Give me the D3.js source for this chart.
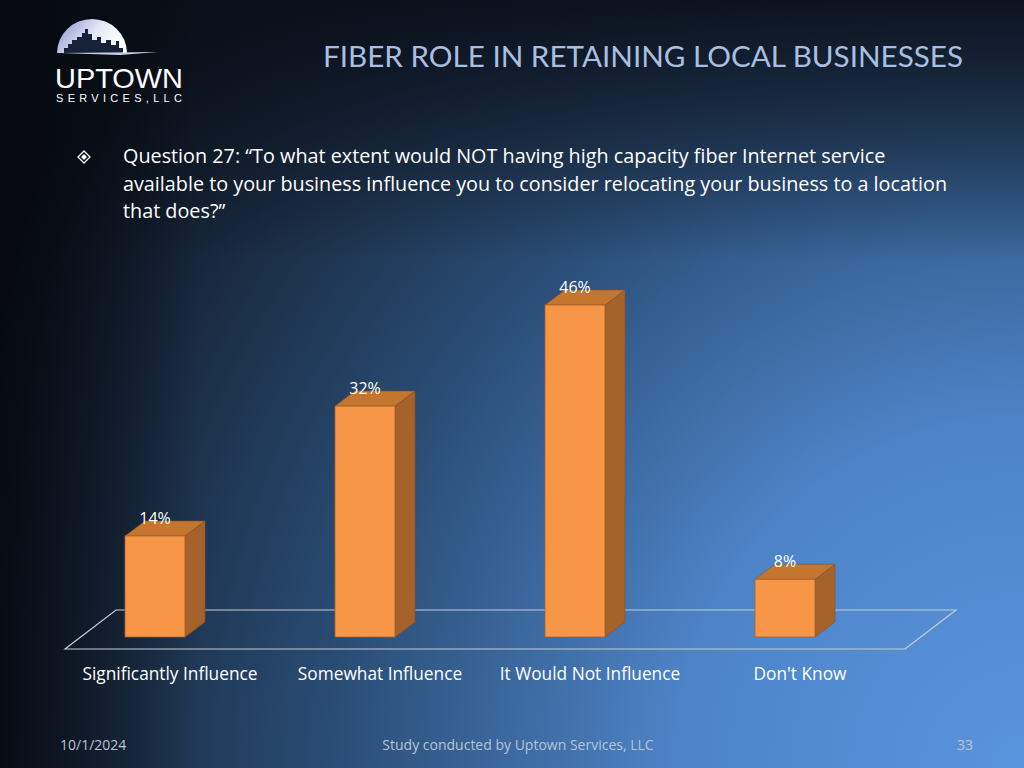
<!DOCTYPE html>
<html><head><meta charset="utf-8">
<script src="https://cdn.jsdelivr.net/npm/d3@7"></script>
<style>html,body{margin:0;padding:0;background:#000;}svg{display:block;}</style>
</head><body>
<script>
const categories = ["Significantly Influence","Somewhat Influence","It Would Not Influence","Don't Know"];
const values = [14, 32, 46, 8];
const valueLabels = ["14%","32%","46%","8%"];
const titleText = "FIBER ROLE IN RETAINING LOCAL BUSINESSES";
const questionLines = ["Question 27: \u201cTo what extent would NOT having high capacity fiber Internet service",
  "available to your business influence you to consider relocating your business to a location",
  "that does?\u201d"];
const footer = ["10/1/2024","Study conducted by Uptown Services, LLC","33"];

const W=1024,H=768;
const svg=d3.select("body").append("svg").attr("width",W).attr("height",H);
const defs=svg.append("defs");
const rg=defs.append("radialGradient").attr("id","bg").attr("gradientUnits","userSpaceOnUse")
  .attr("cx",1024).attr("cy",768).attr("r",1150).attr("fx",1024).attr("fy",768);
rg.append("stop").attr("offset","0").attr("stop-color","#5995dc");
rg.append("stop").attr("offset","0.3").attr("stop-color","#4d84c8");
rg.append("stop").attr("offset","0.6").attr("stop-color","#2a4d75");
rg.append("stop").attr("offset","0.85").attr("stop-color","#16263a");
rg.append("stop").attr("offset","1").attr("stop-color","#0a1018");
svg.append("rect").attr("width",W).attr("height",H).attr("fill","url(#bg)");
const tg=defs.append("linearGradient").attr("id","top").attr("x1",0).attr("y1",0).attr("x2",0).attr("y2",1);
tg.append("stop").attr("offset","0").attr("stop-color","#0a0f18").attr("stop-opacity",0.9);
tg.append("stop").attr("offset","1").attr("stop-color","#0a0f18").attr("stop-opacity",0);
svg.append("rect").attr("width",W).attr("height",260).attr("fill","url(#top)");
const lg=defs.append("linearGradient").attr("id","left").attr("x1",0).attr("y1",0).attr("x2",1).attr("y2",0);
lg.append("stop").attr("offset","0").attr("stop-color","#05080d").attr("stop-opacity",0.8);
lg.append("stop").attr("offset","1").attr("stop-color","#05080d").attr("stop-opacity",0);
svg.append("rect").attr("width",200).attr("height",H).attr("fill","url(#left)");

// logo
const logo=svg.append("g");
const dg=defs.append("linearGradient").attr("id","dome").attr("x1",0).attr("y1",0).attr("x2",1).attr("y2",0.4);
dg.append("stop").attr("offset","0").attr("stop-color","#7f8ecc");
dg.append("stop").attr("offset","0.6").attr("stop-color","#e4e8f6");
dg.append("stop").attr("offset","1").attr("stop-color","#ffffff");
logo.append("path").attr("d","M57,53 A35,34 0 0 1 127,53 Z").attr("fill","url(#dome)");
logo.append("path").attr("d","M64,53 L64,48 L68,48 L68,44 L72,44 L72,40 L77,40 L77,37 L82,37 L82,33 L85,33 L85,29 L88,29 L88,34 L92,34 L92,40 L97,40 L97,37 L101,37 L101,43 L106,43 L106,40 L111,40 L111,45 L116,45 L116,41 L119,41 L119,48 L123,48 L123,53 Z").attr("fill","#16213a");
logo.append("path").attr("d","M60,53 L158,52 L120,55 Z").attr("fill","#c9cfe6");
logo.append("text").attr("x",55).attr("y",88).attr("font-family","Liberation Sans, Arial").attr("font-size",28).attr("fill","#fff").attr("textLength",128).attr("lengthAdjust","spacingAndGlyphs").text("UPTOWN");
logo.append("text").attr("x",56).attr("y",102).attr("font-family","Liberation Sans, Arial").attr("font-size",11).attr("fill","#fff").attr("letter-spacing",4.3).text("SERVICES,LLC");

// title
svg.append("text").attr("x",323).attr("y",67).attr("font-family","Lato, 'Open Sans', sans-serif").attr("font-size",29)
  .attr("fill","#a9bfe0").attr("textLength",640).attr("lengthAdjust","spacingAndGlyphs").text(titleText);

// bullet
const bx=84,by=157;
svg.append("path").attr("d",`M${bx},${by-6} L${bx+6},${by} L${bx},${by+6} L${bx-6},${by} Z`).attr("fill","none").attr("stroke","#fff").attr("stroke-width",1.3);
svg.append("path").attr("d",`M${bx},${by-3} L${bx+3},${by} L${bx},${by+3} L${bx-3},${by} Z`).attr("fill","#fff");
svg.append("g").selectAll("text").data(questionLines).join("text")
  .attr("x",123).attr("y",(d,i)=>163+i*27.5).attr("font-family","'Open Sans', sans-serif").attr("font-size",19.8)
  .attr("fill","#fff").text(d=>d);

// chart
const baseY=637, depthX=20, depthY=-15;
const y=d3.scaleLinear().domain([0,46]).range([baseY,305]);
const x=d3.scaleBand().domain(categories).range([65,905]);
const floorDX=51, floorDY=-39, floorFrontY=649;
svg.append("path").attr("d",`M${x.range()[0]},${floorFrontY} L${x.range()[1]},${floorFrontY} L${x.range()[1]+floorDX},${floorFrontY+floorDY} L${x.range()[0]+floorDX},${floorFrontY+floorDY} Z`)
  .attr("fill","none").attr("stroke","#c8ccd4").attr("stroke-width",1.2);

const bw=60;
const bars=svg.append("g").selectAll("g").data(categories).join("g");
const bxf=d=>x(d)+x.bandwidth()/2-15-bw/2;
bars.append("path").attr("d",(d,i)=>{const x0=bxf(d)+bw,yt=y(values[i]);return `M${x0},${yt} L${x0+depthX},${yt+depthY} L${x0+depthX},${baseY+depthY} L${x0},${baseY} Z`;})
  .attr("fill","#a5622a").attr("stroke","#8a5020").attr("stroke-width",0.6);
bars.append("path").attr("d",(d,i)=>{const x0=bxf(d),yt=y(values[i]);return `M${x0},${yt} L${x0+depthX},${yt+depthY} L${x0+bw+depthX},${yt+depthY} L${x0+bw},${yt} Z`;})
  .attr("fill","#c4762f").attr("stroke","#8a5020").attr("stroke-width",0.6);
bars.append("rect").attr("x",d=>bxf(d)).attr("y",(d,i)=>y(values[i])).attr("width",bw).attr("height",(d,i)=>baseY-y(values[i]))
  .attr("fill","#f79646").attr("stroke","#a8602a").attr("stroke-width",0.8);
bars.append("text").attr("x",d=>bxf(d)+bw/2).attr("y",(d,i)=>y(values[i])-12).attr("text-anchor","middle")
  .attr("font-family","'Open Sans', sans-serif").attr("font-size",16).attr("fill","#fff").text((d,i)=>valueLabels[i]);

svg.append("g").selectAll("text").data(categories).join("text")
  .attr("x",d=>x(d)+x.bandwidth()/2).attr("y",680).attr("text-anchor","middle")
  .attr("font-family","'Open Sans', sans-serif").attr("font-size",17.3).attr("fill","#fff").text(d=>d);

// footer
const fs=14;
svg.append("text").attr("x",60).attr("y",750).attr("font-family","'Open Sans', sans-serif").attr("font-size",fs).attr("fill","#b8c4d4").text(footer[0]);
svg.append("text").attr("x",518).attr("y",750).attr("text-anchor","middle").attr("font-family","'Open Sans', sans-serif").attr("font-size",fs).attr("fill","#b8c4d4").text(footer[1]);
svg.append("text").attr("x",973).attr("y",750).attr("text-anchor","end").attr("font-family","'Open Sans', sans-serif").attr("font-size",fs).attr("fill","#b8c4d4").text(footer[2]);
</script>
</body></html>
